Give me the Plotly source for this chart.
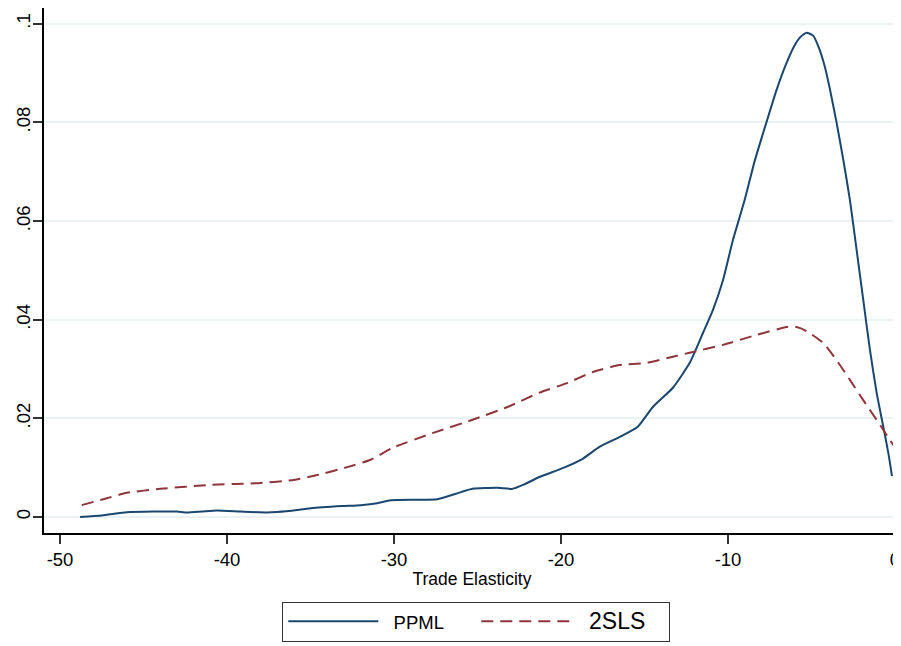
import plotly.graph_objects as go

# PPML density
ppml_x = [-48.8, -47.5, -46.0, -44.4, -43.0, -42.4, -41.5, -40.6, -39.2, -37.6, -37.0,
          -35.8, -34.9, -33.1, -32.0, -31.0, -30.2, -28.6, -27.4, -26.3, -25.3, -23.8,
          -22.9, -22.2, -21.3, -19.9, -18.7, -17.7, -16.5, -15.4, -14.5, -13.3, -12.3,
          -11.5, -10.9, -10.3, -9.7, -9.0, -8.4, -7.7, -7.1, -6.5, -6.0, -5.7, -5.3,
          -4.9, -4.6, -4.2, -3.9, -3.5, -3.1, -2.7, -2.3, -1.9, -1.5, -1.1, -0.7, -0.4,
          -0.18]
ppml_y = [0.0000, 0.0003, 0.00095, 0.0011, 0.0011, 0.0009, 0.0011, 0.0013, 0.0011, 0.0009, 0.0010,
          0.0014, 0.0018, 0.0022, 0.0024, 0.0028, 0.0034, 0.0035, 0.0036, 0.0047, 0.0057, 0.0059,
          0.0057, 0.0066, 0.0081, 0.0099, 0.0118, 0.0142, 0.0162, 0.0183, 0.0223, 0.0262, 0.0312,
          0.0373, 0.0420, 0.0480, 0.0562, 0.0643, 0.0722, 0.0800, 0.0865, 0.0920, 0.0957, 0.0972, 0.0982,
          0.0976, 0.0955, 0.0913, 0.0868, 0.0800, 0.0725, 0.0643, 0.0542, 0.0440, 0.0339, 0.0252, 0.0183, 0.0130,
          0.0083]

# 2SLS density
tsls_x = [-48.7, -47.3, -46.0, -44.0, -41.0, -38.0, -36.0, -34.6, -32.8, -31.4, -30.1,
          -27.7, -25.3, -23.2, -21.3, -19.6, -18.1, -16.5, -14.9, -13.3, -12.3, -10.3,
          -8.3, -6.5, -5.9, -5.3, -4.3, -3.5, -2.7, -1.9, -1.1, -0.3, 0.06]
tsls_y = [0.0024, 0.0037, 0.0049, 0.0057, 0.0065, 0.0069, 0.0075, 0.0085, 0.0101, 0.0116, 0.0140,
          0.0170, 0.0197, 0.0223, 0.0252, 0.0272, 0.0294, 0.0308, 0.0312, 0.0325, 0.0333, 0.0349,
          0.0369, 0.0385, 0.0385, 0.0377, 0.0353, 0.0318, 0.0278, 0.0237, 0.0197, 0.0156, 0.0138]

x_ticks = [-50, -40, -30, -20, -10, 0]
x_tick_labels = ["-50", "-40", "-30", "-20", "-10", "0"]
y_ticks = [0, 0.02, 0.04, 0.06, 0.08, 0.1]
y_tick_labels = ["0", ".02", ".04", ".06", ".08", ".1"]

BLUE = "#1a476f"
RED = "#90353b"
FONT = "Liberation Sans, Arial, sans-serif"

fig = go.Figure()
fig.add_trace(go.Scatter(x=ppml_x, y=ppml_y, mode="lines", name="\u00a0\u00a0PPML",
                         line=dict(color=BLUE, width=2, shape="spline", smoothing=0.5)))
fig.add_trace(go.Scatter(x=tsls_x, y=tsls_y, mode="lines",
                         name='<span style="font-size:23px">\u00a0\u00a02SLS</span>',
                         line=dict(color=RED, width=2, dash="12px,7px", shape="spline", smoothing=0.5)))

# page body has an 8px margin, so the figure is sized/offset to compensate
fig.update_layout(
    width=893, height=638,
    margin=dict(l=36, r=1, t=0, b=113),
    paper_bgcolor="white", plot_bgcolor="white",
    font=dict(family=FONT, size=18, color="black"),
    xaxis=dict(range=[-50.96, 0.3], tickvals=x_ticks, ticktext=x_tick_labels, ticks="outside",
               ticklen=9, tickwidth=1.5, tickcolor="#333", showline=True, linecolor="black",
               linewidth=1.5, showgrid=False, zeroline=False, automargin=False,
               title=dict(text="Trade Elasticity", font=dict(size=17.5), standoff=4),
               tickfont=dict(size=18.5)),
    yaxis=dict(range=[-0.00325, 0.1032], tickvals=y_ticks, ticktext=y_tick_labels,
               ticks="outside", ticklen=9, tickwidth=1.5, tickcolor="#333",
               showline=True, linecolor="black", linewidth=1.5, automargin=False,
               showgrid=True, gridcolor="#eaf2f3", gridwidth=1.5, zeroline=False,
               tickangle=-90, tickfont=dict(size=18.5), ticklabelstandoff=-4),
    legend=dict(orientation="h", x=0.505, xanchor="center", y=-0.131, yanchor="top",
                bordercolor="#333", borderwidth=1, font=dict(size=18.5),
                itemwidth=90, entrywidth=88),
    showlegend=True,
)

fig.write_html("out.html")
